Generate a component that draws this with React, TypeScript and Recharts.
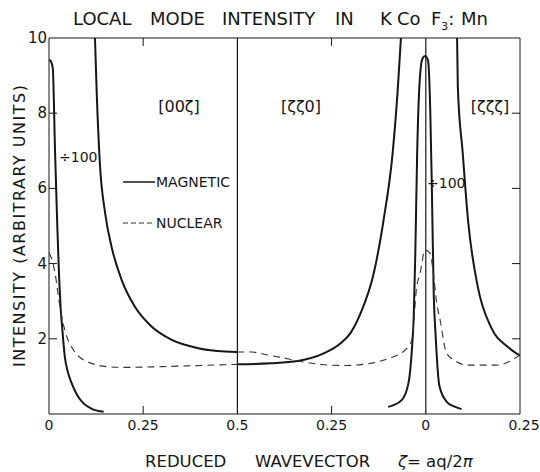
import React from 'react';
import { LineChart, Line, XAxis, YAxis, ReferenceLine } from 'recharts';

// position along the plot: [00ζ] 0..0.5, [ζζ0] 0.5..1 (ζ = 1 - pos), [ζζζ] 1..1.25 (ζ = pos - 1)
const xTicks = [0, 0.25, 0.5, 0.75, 1, 1.25];
const xTickLabels = ['0', '0.25', '0.5', '0.25', '0', '0.25'];
const yTicks = [2, 4, 6, 8, 10];

// magnetic, [00ζ], plotted ÷100
const magSharpPos = [0, 0.005, 0.01, 0.016, 0.022, 0.027, 0.031, 0.035, 0.042, 0.05, 0.06, 0.075, 0.091, 0.115, 0.145];
const magSharp = [9.42, 9.38, 9.2, 7.0, 5.0, 3.6, 2.8, 2.3, 1.52, 1.12, 0.82, 0.5, 0.29, 0.13, 0.06];

// magnetic, [00ζ]
const mag00Pos = [0.122, 0.127, 0.135, 0.149, 0.166, 0.193, 0.228, 0.273, 0.326, 0.396, 0.467, 0.5];
const mag00 = [10, 8.44, 6.67, 5.34, 4.45, 3.56, 2.85, 2.32, 1.97, 1.75, 1.66, 1.65];

// magnetic, [ζζ0]
const magZZ0Pos = [0.5, 0.588, 0.66, 0.729, 0.774, 0.8, 0.827, 0.862, 0.888, 0.912, 0.926, 0.934];
const magZZ0 = [1.32, 1.35, 1.41, 1.61, 1.88, 2.15, 2.68, 3.75, 5.16, 6.94, 8.7, 10];

// magnetic, [ζζζ]
const magZZZPos = [1.083, 1.085, 1.098, 1.112, 1.138, 1.173, 1.218, 1.25];
const magZZZ = [10, 8.7, 6.94, 5.16, 3.38, 2.31, 1.78, 1.55];

// magnetic around ζ = 0, plotted ÷100
const magPeakPos = [0.9, 0.936, 0.954, 0.963, 0.968, 0.972, 0.977, 0.984, 0.991, 0.998, 1.006, 1.012, 1.016, 1.021, 1.026, 1.036, 1.055, 1.075, 1.095];
const magPeak = [0.19, 0.37, 0.82, 1.7, 2.6, 4.2, 6.9, 8.9, 9.45, 9.52, 9.4, 8.0, 6.05, 3.2, 2.1, 0.75, 0.33, 0.2, 0.13];

// nuclear, [00ζ]
const nuc00Pos = [0, 0.008, 0.016, 0.029, 0.042, 0.065, 0.09, 0.109, 0.153, 0.2, 0.3, 0.4, 0.5];
const nuc00 = [4.28, 4.1, 3.75, 2.85, 2.23, 1.7, 1.45, 1.36, 1.26, 1.24, 1.26, 1.29, 1.32];

// nuclear, [ζζ0] and [ζζζ]
const nucRestPos = [0.5, 0.537, 0.58, 0.614, 0.66, 0.713, 0.746, 0.79, 0.833, 0.87, 0.905, 0.945, 0.963, 0.976, 0.985, 0.998, 1.011, 1.02, 1.029, 1.038, 1.055, 1.082, 1.109, 1.188, 1.25];
const nucRest = [1.65, 1.65, 1.57, 1.51, 1.41, 1.33, 1.3, 1.29, 1.32, 1.38, 1.49, 1.7, 1.97, 3.39, 3.75, 4.36, 4.28, 3.75, 2.95, 2.5, 1.62, 1.39, 1.3, 1.3, 1.57];

const zip = (pos: number[], val: number[]) => pos.map((s, i) => ({ s, v: val[i] }));

const INK = '#161616';
const FONT = '"DejaVu Sans", sans-serif';
const PLOT_TOP = 38;
const PLOT_RIGHT = 520;

// bottom labels, plus inward ticks on the bottom and top edges
function BottomTick({ x, y, payload }: any) {
  const i = xTicks.indexOf(payload.value);
  const inner = payload.value === 0.25 || payload.value === 0.75;
  return (
    <g>
      {inner && <line x1={x} x2={x} y1={y} y2={y - 8} stroke={INK} />}
      {inner && <line x1={x} x2={x} y1={PLOT_TOP} y2={PLOT_TOP + 8} stroke={INK} />}
      <text x={x + (i === 5 ? 4 : 0)} y={y + 16} textAnchor="middle" fontFamily={FONT} fontSize={14} fill={INK}>
        {xTickLabels[i]}
      </text>
    </g>
  );
}

// left labels, plus inward ticks on the left and right edges
function LeftTick({ x, y, payload }: any) {
  const inner = payload.value < 10;
  return (
    <g>
      {inner && <line x1={x} x2={x + 8} y1={y} y2={y} stroke={INK} />}
      {inner && <line x1={PLOT_RIGHT} x2={PLOT_RIGHT - 8} y1={y} y2={y} stroke={INK} />}
      <text x={x - 2} y={y + 5} textAnchor="end" fontFamily={FONT} fontSize={15} fill={INK}>
        {payload.value}
      </text>
    </g>
  );
}

export default function App() {
  const solid = { type: 'monotone' as const, dataKey: 'v', yAxisId: 'l', stroke: INK, strokeWidth: 2, dot: false, isAnimationActive: false };
  const dashed = { ...solid, strokeWidth: 1.1, stroke: '#333', strokeDasharray: '7 5' };
  return (
    <div style={{ position: 'absolute', left: 0, top: 0, width: 540, height: 472, background: '#fff' }}>
      <LineChart width={540} height={472} margin={{ top: PLOT_TOP, right: 540 - PLOT_RIGHT, bottom: 18, left: 9 }}>
        <XAxis dataKey="s" type="number" domain={[0, 1.25]} ticks={xTicks} height={40} tickSize={0} tickMargin={0}
          tickLine={false} tick={<BottomTick />} stroke={INK} interval={0} allowDataOverflow />
        <YAxis yAxisId="l" type="number" domain={[0, 10]} ticks={yTicks} width={40} tickSize={0} tickMargin={0}
          tickLine={false} tick={<LeftTick />} stroke={INK} interval={0} allowDataOverflow />
        <ReferenceLine yAxisId="l" y={10} stroke={INK} strokeWidth={1} />
        <ReferenceLine yAxisId="l" x={1.25} stroke={INK} strokeWidth={1} />
        <ReferenceLine yAxisId="l" x={0.5} stroke={INK} strokeWidth={1.2} />
        <ReferenceLine yAxisId="l" x={1} stroke={INK} strokeWidth={1.2} />
        <Line {...solid} data={zip(magSharpPos, magSharp)} name="Magnetic ÷100" />
        <Line {...solid} data={zip(mag00Pos, mag00)} name="Magnetic [00ζ]" />
        <Line {...solid} data={zip(magZZ0Pos, magZZ0)} name="Magnetic [ζζ0]" />
        <Line {...solid} data={zip(magZZZPos, magZZZ)} name="Magnetic [ζζζ]" />
        <Line {...solid} data={zip(magPeakPos, magPeak)} name="Magnetic ÷100 (ζ=0)" />
        <Line {...dashed} data={zip(nuc00Pos, nuc00)} name="Nuclear [00ζ]" />
        <Line {...dashed} data={zip(nucRestPos, nucRest)} name="Nuclear [ζζ0],[ζζζ]" />
      </LineChart>
      <svg width={540} height={472} style={{ position: 'absolute', left: 0, top: 0, pointerEvents: 'none' }}
        fontFamily={FONT} fill={INK}>
        <text y={25} fontSize={18}>
          <tspan x={73}>LOCAL</tspan>
          <tspan x={150}>MODE</tspan>
          <tspan x={222}>INTENSITY</tspan>
          <tspan x={335}>IN</tspan>
          <tspan x={380}>K</tspan>
          <tspan x={397}>Co</tspan>
          <tspan x={431}>F</tspan>
          <tspan fontSize={11} dy={5}>3</tspan>
          <tspan dy={-5}>:</tspan>
          <tspan x={461}>Mn</tspan>
        </text>
        <text x={25} y={226} fontSize={16} textAnchor="middle" transform="rotate(-90 25 226)" textLength={282}
          lengthAdjust="spacing">INTENSITY (ARBITRARY UNITS)</text>
        <text y={467} fontSize={16.5}>
          <tspan x={145}>REDUCED</tspan>
          <tspan x={255}>WAVEVECTOR</tspan>
          <tspan x={398} fontStyle="italic">ζ</tspan>
          <tspan>= aq/2</tspan>
          <tspan fontStyle="italic">π</tspan>
        </text>
        <text x={179} y={112} fontSize={16} textAnchor="middle">[00ζ]</text>
        <text x={301} y={112} fontSize={16} textAnchor="middle">[ζζ0]</text>
        <text x={490} y={112} fontSize={16} textAnchor="middle">[ζζζ]</text>
        <text x={59} y={162} fontSize={14}>÷100</text>
        <text x={427} y={188} fontSize={14}>÷100</text>
        <line x1={123} x2={155} y1={182} y2={182} stroke={INK} strokeWidth={1.5} />
        <text x={156} y={187} fontSize={14}>MAGNETIC</text>
        <line x1={123} x2={155} y1={223} y2={223} stroke="#333" strokeWidth={1.1} strokeDasharray="5 3" />
        <text x={156} y={228} fontSize={14}>NUCLEAR</text>
      </svg>
    </div>
  );
}
